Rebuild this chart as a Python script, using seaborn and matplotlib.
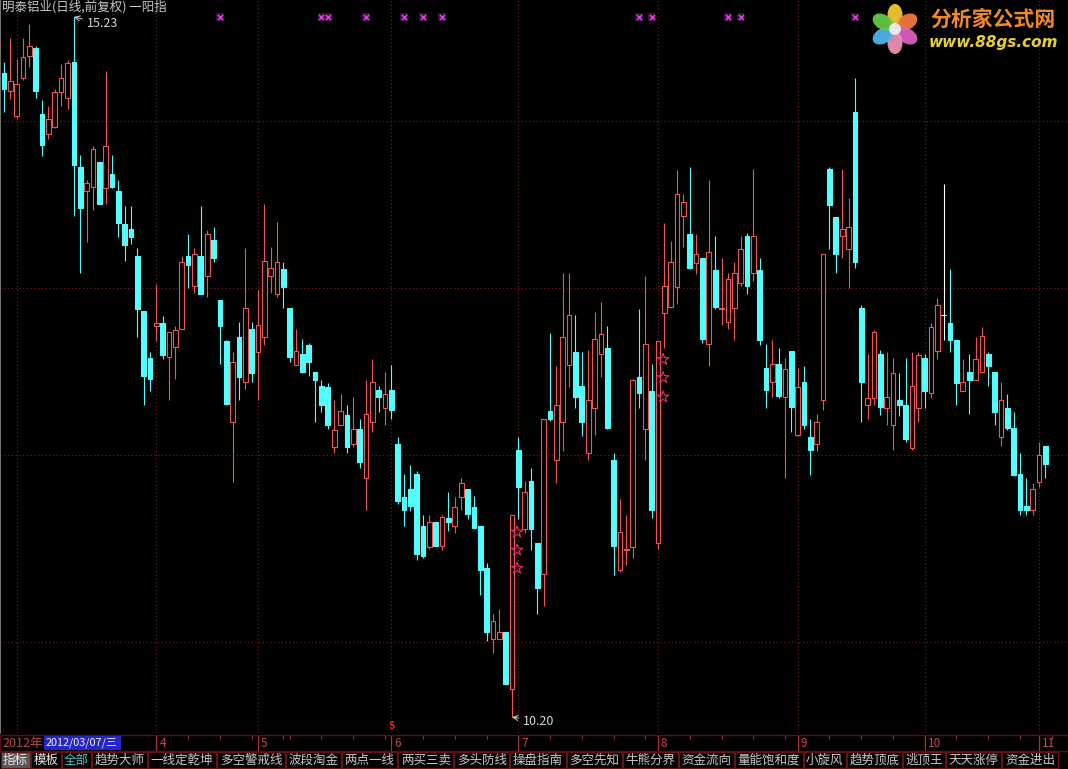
import numpy as np
import matplotlib
matplotlib.use('Agg')
import matplotlib.pyplot as plt
from matplotlib.patches import Rectangle, Ellipse, Circle
import seaborn as sns

# daily OHLC (one value per candle, left to right)
opens = [14.83, 14.70, 14.52, 14.79, 14.95, 15.01, 14.53, 14.39, 14.44, 14.69,
         14.65, 14.91, 14.15, 13.98, 14.01, 14.19, 14.00, 14.10, 13.98, 13.74,
         13.71, 13.51, 13.12, 12.78, 13.01, 13.03, 12.79, 12.86, 12.99, 13.51,
         13.30, 13.51, 13.37, 13.63, 13.20, 12.90, 12.32, 12.93, 12.61, 12.99,
         12.82, 12.93, 13.37, 13.24, 13.42, 13.14, 12.73, 12.81, 12.87, 12.68,
         12.58, 12.57, 12.14, 12.30, 12.37, 12.16, 12.27, 11.92, 12.32, 12.55,
         12.42, 12.55, 12.16, 11.78, 11.84, 11.95, 11.57, 11.42, 11.60, 11.43,
         11.63, 11.57, 11.78, 11.84, 11.71, 11.57, 11.27, 10.76, 10.76, 10.81,
         10.40, 12.12, 11.55, 11.90, 11.45, 11.23, 12.40, 12.05, 12.32, 12.73,
         12.82, 12.58, 12.10, 12.42, 12.81, 12.85, 12.05, 11.26, 11.40, 11.42,
         12.64, 12.27, 12.54, 11.45, 13.10, 13.15, 13.29, 13.80, 13.67, 13.46,
         13.50, 12.88, 13.41, 13.13, 13.04, 13.14, 13.32, 13.66, 13.39, 13.41,
         12.71, 12.61, 12.74, 12.50, 12.83, 12.23, 12.61, 12.21, 12.16, 12.48,
         14.14, 13.79, 13.66, 13.56, 14.55, 13.14, 12.44, 12.49, 12.81, 12.42,
         12.30, 12.48, 12.44, 12.13, 12.42, 12.78, 12.53, 12.83, 13.09, 13.03,
         12.91, 12.54, 12.68, 12.62, 12.68, 12.81, 12.68, 12.21, 12.42, 12.28,
         11.95, 11.72, 11.69, 11.89, 12.15]
highs = [14.91, 15.08, 14.93, 15.08, 15.18, 15.02, 14.63, 14.59, 14.71, 14.89,
         14.92, 15.23, 14.24, 14.06, 14.30, 14.19, 14.84, 14.24, 14.06, 13.87,
         13.87, 13.57, 13.12, 12.82, 13.31, 13.08, 12.97, 13.01, 13.51, 13.67,
         13.57, 13.87, 13.70, 13.72, 13.20, 12.91, 12.82, 13.04, 13.57, 13.04,
         13.27, 13.89, 13.58, 13.76, 13.47, 13.14, 12.99, 12.92, 12.89, 12.68,
         12.62, 12.60, 12.48, 12.52, 12.44, 12.50, 12.34, 12.62, 12.77, 12.58,
         12.68, 12.73, 12.21, 11.95, 12.01, 11.97, 11.65, 11.65, 11.60, 11.65,
         11.82, 11.78, 11.92, 11.84, 11.79, 11.57, 11.31, 10.94, 10.98, 10.81,
         11.65, 12.21, 11.90, 11.99, 11.45, 12.34, 12.96, 12.72, 13.39, 13.39,
         13.09, 12.82, 12.84, 13.11, 13.18, 13.01, 12.10, 11.77, 11.65, 12.63,
         13.13, 13.37, 12.74, 12.90, 13.75, 13.62, 14.13, 13.96, 14.15, 13.67,
         13.50, 14.06, 13.66, 13.50, 13.39, 13.47, 13.66, 13.68, 14.14, 13.50,
         12.88, 12.91, 12.85, 12.78, 12.83, 12.71, 12.72, 12.34, 12.38, 13.53,
         14.15, 13.79, 14.14, 13.93, 14.79, 13.16, 12.81, 12.98, 12.84, 12.82,
         12.78, 12.67, 12.78, 12.82, 12.82, 12.81, 13.03, 13.21, 14.03, 13.42,
         12.91, 12.77, 12.81, 12.93, 13.00, 12.82, 12.68, 12.61, 12.52, 12.39,
         12.10, 11.92, 11.88, 12.18, 12.15]
lows = [14.55, 14.64, 14.50, 14.78, 14.87, 14.65, 14.23, 14.35, 14.43, 14.59,
        14.57, 13.80, 13.39, 13.61, 13.84, 13.89, 13.89, 14.00, 13.65, 13.48,
        13.60, 12.93, 12.44, 12.54, 12.90, 12.77, 12.48, 12.63, 12.99, 13.28,
        13.25, 13.24, 13.22, 13.47, 12.74, 12.44, 11.89, 12.48, 12.56, 12.61,
        12.48, 12.87, 13.25, 13.22, 13.14, 12.75, 12.73, 12.67, 12.65, 12.32,
        12.39, 12.27, 12.10, 12.30, 12.10, 12.14, 11.99, 11.69, 12.25, 12.39,
        12.30, 12.34, 11.73, 11.57, 11.68, 11.33, 11.34, 11.41, 11.43, 11.40,
        11.54, 11.52, 11.69, 11.62, 11.55, 11.08, 10.75, 10.66, 10.76, 10.44,
        10.20, 11.62, 11.52, 11.40, 10.94, 11.00, 12.33, 11.88, 12.11, 12.57,
        12.42, 12.22, 12.05, 12.23, 12.64, 12.27, 11.22, 11.24, 11.29, 11.34,
        12.42, 12.05, 11.63, 11.41, 12.85, 13.14, 13.17, 13.58, 13.42, 13.38,
        12.89, 12.72, 13.13, 13.02, 12.99, 12.91, 13.30, 13.24, 13.33, 12.87,
        12.42, 12.50, 12.49, 11.92, 12.25, 12.22, 12.27, 11.94, 12.11, 12.41,
        13.56, 13.39, 13.50, 13.28, 13.43, 12.32, 12.34, 12.44, 12.37, 12.30,
        12.12, 12.36, 12.18, 12.12, 12.32, 12.42, 12.49, 12.77, 12.91, 12.82,
        12.44, 12.54, 12.38, 12.62, 12.67, 12.58, 12.30, 12.15, 12.26, 11.93,
        11.65, 11.65, 11.65, 11.85, 11.92]
closes = [14.71, 14.77, 14.75, 14.94, 15.02, 14.70, 14.31, 14.50, 14.69, 14.79,
          14.90, 14.17, 13.86, 14.04, 14.28, 13.89, 14.30, 14.01, 13.75, 13.59,
          13.65, 13.13, 12.65, 12.63, 13.03, 12.80, 12.97, 12.98, 13.47, 13.45,
          13.53, 13.24, 13.67, 13.50, 13.01, 12.45, 12.75, 12.64, 13.14, 12.67,
          13.02, 13.48, 13.43, 13.47, 13.29, 12.79, 12.83, 12.68, 12.75, 12.62,
          12.44, 12.30, 12.26, 12.40, 12.14, 12.27, 12.03, 12.38, 12.61, 12.50,
          12.52, 12.41, 11.75, 11.69, 11.72, 11.37, 11.36, 11.60, 11.43, 11.64,
          11.60, 11.71, 11.88, 11.66, 11.56, 11.26, 10.81, 10.89, 10.81, 10.44,
          11.65, 11.85, 11.82, 11.55, 11.13, 12.34, 12.34, 12.44, 12.93, 13.09,
          12.50, 12.32, 12.48, 12.92, 12.95, 12.28, 11.43, 11.53, 11.41, 12.62,
          12.53, 12.88, 11.69, 12.90, 13.30, 13.47, 13.96, 13.90, 13.43, 13.53,
          12.92, 13.54, 13.15, 13.14, 13.35, 13.39, 13.56, 13.30, 13.66, 12.91,
          12.55, 12.74, 12.51, 12.70, 12.43, 12.57, 12.30, 12.12, 12.32, 13.53,
          13.88, 13.53, 13.71, 13.72, 13.47, 12.61, 12.49, 12.97, 12.43, 12.50,
          12.67, 12.44, 12.20, 12.58, 12.80, 12.54, 13.00, 13.16, 13.09, 12.91,
          12.60, 12.61, 12.62, 12.77, 12.94, 12.72, 12.39, 12.48, 12.28, 11.94,
          11.69, 11.69, 11.84, 12.08, 12.02]

# month starts (candle index) and their labels
month_idx = [2, 24, 40, 61, 81, 103, 125, 145, 163]
month_labels = ['3', '4', '5', '6', '7', '8', '9', '10', '11']
grid_levels = [14.48, 13.28, 12.08, 10.74]

# signals
signal_idx = [34, 50, 51, 57, 63, 66, 69, 100, 102, 114, 116, 134]
star_idx = [80, 80, 80, 103, 103, 103]
star_price = [11.53, 11.40, 11.27, 12.77, 12.64, 12.50]
sell_idx = 61

title = '明泰铝业(日线,前复权) 一阳指'
tabs = ['指标', '模板', '全部', '趋势大师', '一线定乾坤', '多空警戒线', '波段淘金',
        '两点一线', '两买三卖', '多头防线', '操盘指南', '多空先知', '牛熊分界',
        '资金流向', '量能饱和度', '小旋风', '趋势顶底', '逃顶王', '天天涨停', '资金进出']

UP = '#f05555'
DOWN = '#54fcfc'
GRID = '#6e1a1a'
TXT = '#c8c8c8'

sns.set_theme(style='dark', rc={'axes.facecolor': 'black', 'figure.facecolor': 'black',
                                'savefig.facecolor': 'black'})
plt.rcParams['font.family'] = ['Noto Sans CJK SC', 'DejaVu Sans']

fig = plt.figure(figsize=(10.68, 7.69), dpi=100)
ax = fig.add_axes([0, 36 / 769, 1, 733 / 769])
ax.set_facecolor('black')

o = np.array(opens)
h = np.array(highs)
l = np.array(lows)
c = np.array(closes)
x = np.arange(len(o))

colors = np.where(c > o, UP, np.where(c < o, DOWN, 'white'))
faces = np.where(c > o, 'black', colors)

ax.vlines(x, l, h, colors=colors, lw=0.8, zorder=3)
ax.bar(x, np.abs(c - o), bottom=np.minimum(o, c), width=0.74, color=faces,
       edgecolor=colors, linewidth=0.8, zorder=4)

# dotted grid
for g in grid_levels:
    ax.axhline(g, color=GRID, lw=0.9, ls=(0, (1, 2)), zorder=1)
for m in month_idx:
    ax.axvline(m, color=GRID, lw=0.9, ls=(0, (1, 2)), zorder=1)

ax.set_xlim(-0.63, 167.56)
ax.set_ylim(10.086, 15.352)
ax.set_xticks([])
ax.set_yticks([])
ax.grid(False)
for side in ['top', 'right', 'bottom']:
    ax.spines[side].set_visible(False)
ax.spines['left'].set_color('#8a8a8a')
ax.spines['left'].set_linewidth(1.2)

# top signal crosses
top = h.max()
sns.scatterplot(x=signal_idx, y=[top] * len(signal_idx), marker='s', s=28,
                color='#3a0f40', edgecolor='none', ax=ax, legend=False, zorder=5)
sns.scatterplot(x=signal_idx, y=[top] * len(signal_idx), marker='x', s=14,
                color='#e040e0', linewidth=1.1, ax=ax, legend=False, zorder=6)

# stars
ax.scatter(np.array(star_idx) + 0.8, star_price, marker='*', s=75,
           facecolors='none', edgecolors='#e0306c', linewidths=0.8, zorder=6)

# sell mark
ax.text(sell_idx, 0.009, 'S', transform=ax.get_xaxis_transform(), ha='center',
        va='center', fontsize=7, fontweight='bold', color='#e82020', clip_on=False, zorder=7)

# max / min labels
i_max = int(np.argmax(h))
ax.annotate(f'{h[i_max]:.2f}', xy=(i_max, h[i_max]), xytext=(13, -7),
            textcoords='offset pixels', ha='left', va='center', fontsize=9,
            color='#d8d8d8',
            arrowprops=dict(arrowstyle='->', color='#d8d8d8', lw=0.7, shrinkA=1, shrinkB=0))
i_min = int(np.argmin(l))
ax.annotate(f'{l[i_min]:.2f}', xy=(i_min, l[i_min]), xytext=(11, -4),
            textcoords='offset pixels', ha='left', va='center', fontsize=9,
            color='#d8d8d8',
            arrowprops=dict(arrowstyle='->', color='#d8d8d8', lw=0.7, shrinkA=1, shrinkB=0))

# date row (the first month mark sits under the date box)
axd = fig.add_axes([0, 18 / 769, 1, 16 / 769], sharex=ax)
axd.set_facecolor('black')
axd.set_ylim(0, 1)
axd.set_xticks([])
axd.set_yticks([])
axd.grid(False)
for side in axd.spines:
    axd.spines[side].set_color('#5a1010')
    axd.spines[side].set_linewidth(1)
for m, lab in zip(month_idx[1:], month_labels[1:]):
    axd.vlines(m, 0, 1, color='#b03030', lw=0.9)
    axd.text(m + 0.45, 0.45, lab, ha='left', va='center', fontsize=8.5, color='#c84848')
minor = [k for m in month_idx[1:] for k in range(m + 5, m + 22, 5)]
axd.vlines(minor, 0.72, 1, color='#a03030', lw=0.8)
ax.set_xlim(-0.63, 167.56)

# overlay in pixel units
ov = fig.add_axes([0, 0, 1, 1])
ov.set_xlim(0, 1068)
ov.set_ylim(769, 0)
ov.axis('off')
ov.patch.set_alpha(0)

ov.text(2, 7, title, ha='left', va='center', fontsize=9, color=TXT)

ov.text(2, 743, '2012年', ha='left', va='center', fontsize=9, color='#c04848')
ov.add_patch(Rectangle((44, 736), 77, 14, facecolor='#2626c8', edgecolor='none'))
ov.text(46, 743, '2012/03/07/三', ha='left', va='center', fontsize=7.8, color='#f0f0f0')

# tab bar
cw, pad = 12.9, 4.5
x0 = 1
for i, t in enumerate(tabs):
    w = len(t) * cw + pad
    face = '#5a5a5a' if i == 0 else 'black'
    col = '#40c8c0' if t == '全部' else ('#e8e8e8' if i < 2 else TXT)
    ov.add_patch(Rectangle((x0, 752), w - 1, 16, facecolor=face, edgecolor='#6a1212', lw=0.8))
    ov.text(x0 + (w - 1) / 2, 760.5, t, ha='center', va='center', fontsize=9, color=col)
    x0 += w

# logo
petals = ['#f2c832', '#f07a3c', '#d860c0', '#e890b8', '#50b4ea', '#62c842']
for k, pc in enumerate(petals):
    ang = np.deg2rad(90 - 60 * k)
    cx, cy = 895 + 14 * np.cos(ang), 29 - 14 * np.sin(ang)
    ov.add_patch(Ellipse((cx, cy), 22, 15, angle=-np.rad2deg(ang), facecolor=pc,
                         edgecolor='none', alpha=0.95))
ov.add_patch(Circle((895, 29), 6, facecolor='#e8e8e8', edgecolor='none'))
ov.text(993, 19, '分析家公式网', ha='center', va='center', fontsize=15,
        fontweight='bold', color='#f08a26')
ov.text(993, 43, 'www.88gs.com', ha='center', va='center', fontsize=11,
        fontweight='bold', style='italic', color='#e8d030', family=['DejaVu Sans'])

fig.savefig('out.png', dpi=100, facecolor='black')
